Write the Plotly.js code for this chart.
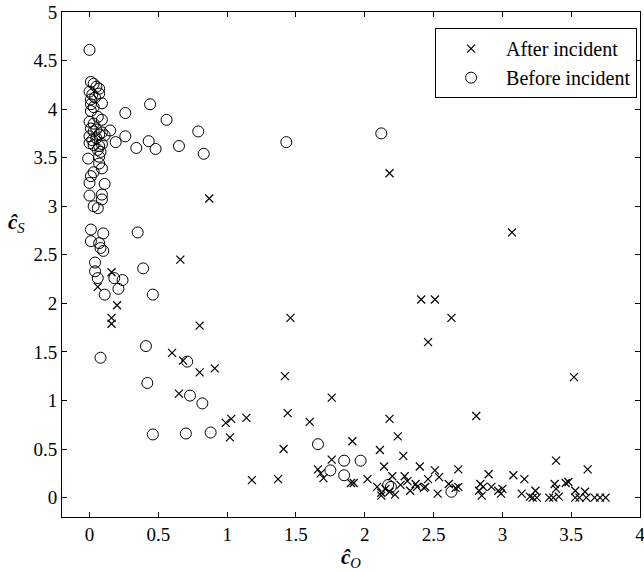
<!DOCTYPE html>
<html>
<head>
<meta charset="utf-8">
<script src="https://cdn.plot.ly/plotly-3.0.1.min.js"></script>
<style>html,body{margin:0;padding:0;background:#fff;}#chart{width:644px;height:571px;}</style>
</head>
<body>
<div id="chart"></div>
<script>
// After incident (crosses)
const afterX = [0.87,2.18,3.07,0.66,0.16,0.06,0.20,0.16,0.16,0.80,2.41,2.51,2.63,2.46,1.46,0.60,0.68,0.80,0.91,1.42,3.52,0.65,0.99,1.03,1.14,1.02,1.44,1.76,1.60,1.41,1.18,1.37,2.18,2.24,2.81,1.91,2.11,2.28,1.76,2.14,1.66,1.68,1.70,1.90,1.92,2.02,2.09,2.12,2.20,2.22,2.29,2.33,2.40,2.38,2.12,2.15,2.18,2.51,2.68,2.90,3.08,3.16,3.39,3.62,2.46,2.54,2.61,2.44,2.53,2.66,2.68,2.84,2.86,2.83,2.85,2.92,2.97,2.99,3.00,3.14,3.20,3.24,3.22,3.25,3.34,3.37,3.38,3.39,3.41,3.46,3.48,3.53,3.53,3.60,3.56,3.61,3.67,3.71,3.75,2.43,2.37,2.26,2.31];
const afterY = [3.08,3.34,2.73,2.45,2.32,2.17,1.98,1.85,1.79,1.77,2.04,2.04,1.85,1.60,1.85,1.49,1.41,1.29,1.33,1.25,1.24,1.07,0.77,0.81,0.82,0.62,0.87,1.03,0.78,0.50,0.18,0.19,0.81,0.63,0.84,0.58,0.49,0.43,0.39,0.32,0.29,0.25,0.20,0.15,0.15,0.19,0.11,0.02,0.22,0.03,0.22,0.07,0.32,0.11,0.05,0.09,0.06,0.28,0.29,0.24,0.23,0.19,0.38,0.29,0.19,0.21,0.14,0.11,0.04,0.10,0.11,0.14,0.11,0.07,0.02,0.11,0.07,0.04,0.09,0.04,0.01,0.07,0.00,0.00,0.00,0.00,0.14,0.09,0.01,0.15,0.16,0.07,0.00,0.06,0.00,0.00,0.00,0.00,0.00,0.10,0.14,0.13,0.17];

// Before incident (circles)
const beforeX = [0.00,0.01,0.03,0.05,0.07,0.00,0.02,0.07,0.01,0.04,0.09,0.01,0.03,0.01,0.06,0.09,0.00,0.03,0.01,0.03,0.05,0.07,0.09,0.11,0.15,0.00,0.02,0.05,0.00,0.03,0.07,0.09,0.08,0.06,0.07,-0.01,0.07,0.09,0.03,0.01,0.00,0.11,0.00,0.09,0.09,0.03,0.06,0.01,0.10,0.01,0.07,0.08,0.10,0.04,0.04,0.06,0.11,0.08,
  0.26,0.44,0.56,0.79,0.26,0.19,0.34,0.43,0.48,0.65,0.83,1.43,2.12,0.35,0.18,0.24,0.21,0.39,0.46,0.41,0.71,0.42,0.73,0.82,0.46,0.70,0.88,1.66,1.85,1.97,1.75,1.85,2.19,2.17,2.63];
const beforeY = [4.61,4.28,4.26,4.23,4.21,4.18,4.15,4.16,4.10,4.12,4.06,4.05,4.02,3.98,3.92,3.89,3.87,3.85,3.80,3.77,3.79,3.74,3.76,3.73,3.78,3.72,3.68,3.70,3.65,3.63,3.62,3.64,3.56,3.58,3.51,3.49,3.44,3.39,3.35,3.31,3.24,3.23,3.11,3.12,3.07,3.00,2.98,2.76,2.72,2.64,2.62,2.57,2.54,2.42,2.33,2.26,2.09,1.44,
  3.96,4.05,3.89,3.77,3.72,3.66,3.60,3.67,3.59,3.62,3.54,3.66,3.75,2.73,2.26,2.24,2.15,2.36,2.09,1.56,1.40,1.18,1.05,0.97,0.65,0.66,0.67,0.55,0.38,0.38,0.28,0.23,0.11,0.13,0.06];

const seriesNames = ['After incident', 'Before incident'];
const tickVals = [0,0.5,1,1.5,2,2.5,3,3.5,4,4.5,5];

const FONT = 'Liberation Serif, Times New Roman, serif';

const traces = [
  {x: afterX, y: afterY, type: 'scatter', mode: 'markers', name: seriesNames[0],
   marker: {symbol: 'x-thin-open', size: 8, color: '#000', line: {color: '#000', width: 1.2}}},
  {x: beforeX, y: beforeY, type: 'scatter', mode: 'markers', name: seriesNames[1],
   marker: {symbol: 'circle-open', size: 11, color: '#000', line: {color: '#000', width: 1}}}
];

const axisCommon = {
  showgrid: false, zeroline: false, showline: true, linecolor: '#000', linewidth: 1,
  mirror: 'ticks', ticks: 'inside', ticklen: 5, tickcolor: '#000', tickwidth: 1,
  tickfont: {family: FONT, size: 19, color: '#000'}, tickmode: 'array',
  ticklabeloverflow: 'allow'
};

const layout = {
  width: 644, height: 571,
  margin: {l: 62, r: 4, t: 12, b: 54},
  paper_bgcolor: '#fff', plot_bgcolor: '#fff',
  showlegend: true,
  xaxis: Object.assign({}, axisCommon, {range: [-0.2, 4], tickvals: tickVals.slice(0, 9), ticktext: tickVals.slice(0, 9).map(String)}),
  yaxis: Object.assign({}, axisCommon, {range: [-0.2, 5], tickvals: tickVals, ticktext: tickVals.map(String)}),
  legend: {x: 0.995, xanchor: 'right', y: 0.968, yanchor: 'top', bgcolor: '#fff',
    bordercolor: '#000', borderwidth: 1, font: {family: FONT, size: 20, color: '#000'},
    itemwidth: 60, entrywidth: 231, tracegroupgap: 0},
  annotations: [
    {text: '<b><i>ĉ</i></b><sub><i>O</i></sub>', xref: 'paper', yref: 'paper', x: 0.5, y: (517-558)/505,
     xanchor: 'center', yanchor: 'middle', showarrow: false, font: {family: FONT, size: 21, color: '#000'}},
    {text: '<b><i>ĉ</i></b><sub><i>S</i></sub>', xref: 'paper', yref: 'paper', x: (16-62)/578, y: (517-223)/505,
     xanchor: 'center', yanchor: 'middle', showarrow: false, font: {family: FONT, size: 21, color: '#000'}}
  ]
};

Plotly.newPlot('chart', traces, layout, {displayModeBar: false, staticPlot: true});
</script>
</body>
</html>
